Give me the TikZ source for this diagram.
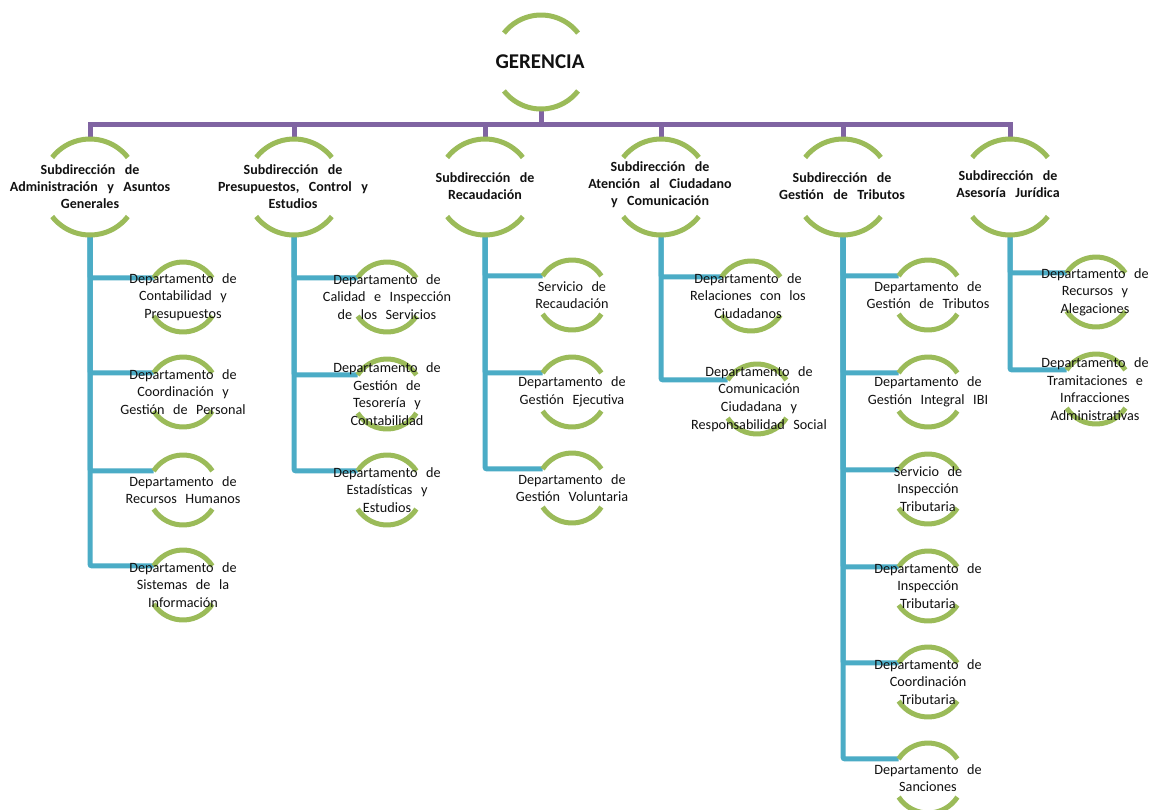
\documentclass[tikz,border=0pt]{standalone}
\usepackage{fontspec}
\setmainfont{Carlito}
\usetikzlibrary{backgrounds}
\definecolor{arcgreen}{HTML}{9BBB59}
\definecolor{buspurple}{HTML}{8064A2}
\definecolor{linkblue}{HTML}{4BACC6}
\definecolor{txt}{HTML}{111111}
\newcommand\dsp{\spaceskip=0.6em\relax}
\newcommand\ssp{\spaceskip=0.68em\relax}
\begin{document}
\begin{tikzpicture}[x=1pt,y=1pt,
  ring/.style={circle, inner sep=0pt, outer sep=0pt, minimum size=#1},
  gtext/.style={font=\fontsize{21}{25}\selectfont\bfseries, text=txt},
  stext/.style={align=center, font=\fontsize{14}{17}\selectfont\bfseries\ssp, text=txt},
  dtext/.style={align=center, font=\fontsize{14.2}{17.6}\selectfont\dsp, text=txt},
  arcline/.style={draw=arcgreen, line width=5pt},
  busline/.style={draw=buspurple, line width=5pt},
  linkline/.style={draw=linkblue, line width=5pt, rounded corners=2pt},
]
\useasboundingbox (0,0) rectangle (1153,-809);

% ---------- circles (invisible anchors) ----------
\node[ring=94pt] (g) at (541,-62) {};
\node[ring=96pt] (s1) at (90,-187) {};
\node[ring=96pt] (s2) at (294,-187) {};
\node[ring=96pt] (s3) at (485,-187) {};
\node[ring=96pt] (s4) at (661,-187) {};
\node[ring=96pt] (s5) at (843,-187) {};
\node[ring=96pt] (s6) at (1010,-187) {};

\node[ring=70pt] (c11) at (183,-297) {};
\node[ring=70pt] (c12) at (183,-392) {};
\node[ring=70pt] (c13) at (183,-490) {};
\node[ring=70pt] (c14) at (183,-585) {};

\node[ring=70pt] (c21) at (387,-297) {};
\node[ring=70pt] (c22) at (387,-394) {};
\node[ring=70pt] (c23) at (387,-490) {};

\node[ring=70pt] (c31) at (572,-295) {};
\node[ring=70pt] (c32) at (572,-392) {};
\node[ring=70pt] (c33) at (572,-488) {};

\node[ring=70pt] (c41) at (751,-296) {};
\node[ring=70pt] (c42) at (757,-399) {};

\node[ring=70pt] (c51) at (928,-295) {};
\node[ring=70pt] (c52) at (928,-392) {};
\node[ring=70pt] (c53) at (928,-489) {};
\node[ring=70pt] (c54) at (928,-586) {};
\node[ring=70pt] (c55) at (928,-682) {};
\node[ring=70pt] (c56) at (928,-778) {};

\node[ring=70pt] (c61) at (1096,-292) {};
\node[ring=70pt] (c62) at (1096,-389) {};

\coordinate (bus) at (541,-124);

% ---------- lines and arcs ----------
\begin{scope}[on background layer]
  \fill[white] (0,0) rectangle (1153,-809);
  % purple bus
  \draw[busline] (g.south) -- (bus);
  \draw[busline] (s1.north) -- (s1.north |- bus) -- (s6.north |- bus) -- (s6.north);
  \foreach \n in {s2,s3,s4,s5} \draw[busline] (\n.north) -- (\n.north |- bus);
  % blue links
  \foreach \c in {c11,c12,c13,c14} \draw[linkline] (s1.south) |- (\c.147);
  \foreach \c in {c21,c22,c23} \draw[linkline] (s2.south) |- (\c.147);
  \foreach \c in {c31,c32,c33} \draw[linkline] (s3.south) |- (\c.147);
  \foreach \c in {c41,c42} \draw[linkline] (s4.south) |- (\c.147);
  \foreach \c in {c51,c52,c53,c54,c55,c56} \draw[linkline] (s5.south) |- (\c.147);
  \foreach \c in {c61,c62} \draw[linkline] (s6.south) |- (\c.147);
  % green arcs
  \draw[arcline] (g.38) arc (38:142:47pt);
  \draw[arcline] (g.-142) arc (-142:-38:47pt);
  \foreach \n in {s1,s2,s3,s4,s5,s6} {
    \draw[arcline] (\n.38) arc (38:142:48pt);
    \draw[arcline] (\n.-142) arc (-142:-38:48pt);
  }
  \foreach \n in {c11,c12,c13,c14,c21,c22,c23,c31,c32,c33,c41,c42,c51,c52,c53,c54,c55,c56,c61,c62} {
    \draw[arcline] (\n.33) arc (33:147:35pt);
    \draw[arcline] (\n.-147) arc (-147:-33:35pt);
  }
\end{scope}

% ---------- texts ----------
\node[gtext] (gt) at (540,-62) {GERENCIA};

\node[stext] (s1t) at (90,-187) {Subdirección de\\Administración y Asuntos\\Generales};
\node[stext] (s2t) at (293,-187) {Subdirección de\\Presupuestos, Control y\\Estudios};
\node[stext] (s3t) at (485,-186) {Subdirección de\\Recaudación};
\node[stext] (s4t) at (660,-185) {Subdirección de\\Atención al Ciudadano\\y Comunicación};
\node[stext] (s5t) at (842,-186) {Subdirección de\\Gestión de Tributos};
\node[stext] (s6t) at (1008,-184) {Subdirección de\\Asesoría Jurídica};

\node[dtext] (c11t) at (c11) {Departamento de\\Contabilidad y\\Presupuestos};
\node[dtext] (c12t) at (c12) {Departamento de\\Coordinación y\\Gestión de Personal};
\node[dtext] (c13t) at (c13) {Departamento de\\Recursos Humanos};
\node[dtext] (c14t) at (c14) {Departamento de\\Sistemas de la\\Información};

\node[dtext] (c21t) at (c21) {Departamento de\\Calidad e Inspección\\de los Servicios};
\node[dtext] (c22t) at (c22) {Departamento de\\Gestión de\\Tesorería y\\Contabilidad};
\node[dtext] (c23t) at (c23) {Departamento de\\Estadísticas y\\Estudios};

\node[dtext] (c31t) at (c31) {Servicio de\\Recaudación};
\node[dtext] (c32t) at (c32) {Departamento de\\Gestión Ejecutiva};
\node[dtext] (c33t) at (c33) {Departamento de\\Gestión Voluntaria};

\node[dtext] (c41t) at (748,-296) {Departamento de\\Relaciones con los\\Ciudadanos};
\node[dtext] (c42t) at (759,-399) {Departamento de\\Comunicación\\Ciudadana y\\Responsabilidad Social};

\node[dtext] (c51t) at (c51) {Departamento de\\Gestión de Tributos};
\node[dtext] (c52t) at (c52) {Departamento de\\Gestión Integral IBI};
\node[dtext] (c53t) at (c53) {Servicio de\\Inspección\\Tributaria};
\node[dtext] (c54t) at (c54) {Departamento de\\Inspección\\Tributaria};
\node[dtext] (c55t) at (c55) {Departamento de\\Coordinación\\Tributaria};
\node[dtext] (c56t) at (c56) {Departamento de\\Sanciones};

\node[dtext] (c61t) at (1095,-292) {Departamento de\\Recursos y\\Alegaciones};
\node[dtext] (c62t) at (1095,-389) {Departamento de\\Tramitaciones e\\Infracciones\\Administrativas};
\end{tikzpicture}
\end{document}
